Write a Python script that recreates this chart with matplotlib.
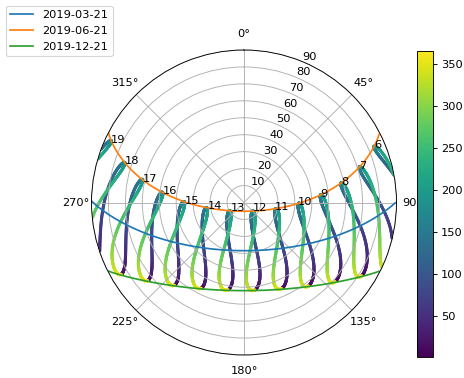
import numpy as np
import pandas as pd
import matplotlib
matplotlib.use("Agg")
import matplotlib.pyplot as plt

# ---- data / parameters (site, timezone, dates) ----
site_lat = 28.6          # New Delhi latitude
site_lon = 77.2          # New Delhi longitude
tz_offset_hours = 5.5    # Asia/Calcutta
year_start = "2019-01-01 00:00:00"
year_end = "2020-01-01"
day_dates = ["2019-03-21", "2019-06-21", "2019-12-21"]
day_labels = ["2019-03-21", "2019-06-21", "2019-12-21"]
cbar_ticks = [50, 100, 150, 200, 250, 300, 350]
r_ticks = [10, 20, 30, 40, 50, 60, 70, 80, 90]


def solar_position(local_times, lat, lon, tz_h):
    """NOAA solar position -> (apparent zenith, azimuth, apparent elevation)."""
    utc = local_times - pd.Timedelta(hours=tz_h)
    unix_days = (utc.values.astype("datetime64[s]").astype(np.int64)) / 86400.0
    jd = unix_days + 2440587.5
    t = (jd - 2451545.0) / 36525.0
    L0 = np.mod(280.46646 + t * (36000.76983 + t * 0.0003032), 360)
    M = 357.52911 + t * (35999.05029 - 0.0001537 * t)
    e = 0.016708634 - t * (0.000042037 + 0.0000001267 * t)
    Mr = np.radians(M)
    C = (np.sin(Mr) * (1.914602 - t * (0.004817 + 0.000014 * t))
         + np.sin(2 * Mr) * (0.019993 - 0.000101 * t)
         + np.sin(3 * Mr) * 0.000289)
    true_long = L0 + C
    omega = 125.04 - 1934.136 * t
    lam = true_long - 0.00569 - 0.00478 * np.sin(np.radians(omega))
    eps0 = 23 + (26 + (21.448 - t * (46.815 + t * (0.00059 - t * 0.001813))) / 60) / 60
    eps = eps0 + 0.00256 * np.cos(np.radians(omega))
    dec = np.arcsin(np.sin(np.radians(eps)) * np.sin(np.radians(lam)))
    y = np.tan(np.radians(eps / 2)) ** 2
    L0r = np.radians(L0)
    eot = 4 * np.degrees(y * np.sin(2 * L0r) - 2 * e * np.sin(Mr)
                         + 4 * e * y * np.sin(Mr) * np.cos(2 * L0r)
                         - 0.5 * y * y * np.sin(4 * L0r)
                         - 1.25 * e * e * np.sin(2 * Mr))
    utc_min = (unix_days - np.floor(unix_days)) * 1440.0
    tst = utc_min + eot + 4 * lon
    ha = np.radians(tst / 4.0 - 180.0)
    latr = np.radians(lat)
    cosz = np.sin(latr) * np.sin(dec) + np.cos(latr) * np.cos(dec) * np.cos(ha)
    zen = np.degrees(np.arccos(np.clip(cosz, -1, 1)))
    elev = 90 - zen
    refr = np.where(elev > -1,
                    1.02 / (60 * np.tan(np.radians(elev + 10.3 / (elev + 5.11)))),
                    0.0)
    app_elev = elev + refr
    az = np.degrees(np.arctan2(np.sin(ha),
                               np.cos(ha) * np.sin(latr) - np.tan(dec) * np.cos(latr))) + 180
    return 90 - app_elev, np.mod(az, 360), app_elev


times = pd.date_range(year_start, year_end, inclusive="left", freq="h")
zen, az, app_el = solar_position(times, site_lat, site_lon, tz_offset_hours)
mask = app_el > 0
zen, az = zen[mask], az[mask]
hours = times.hour.values[mask]
doy = times.dayofyear.values[mask]

dpi = 82
fig = plt.figure(figsize=(464 / dpi, 378 / dpi), dpi=dpi)
ax = fig.add_axes([91 / 464, 23 / 378, 306 / 464, 305 / 378], projection="polar")

points = ax.scatter(np.radians(az), zen, s=3, c=doy, cmap="viridis")

for hour in np.unique(hours):
    sel = hours == hour
    i = np.argmin(zen[sel])
    ax.text(np.radians(az[sel][i]), zen[sel][i], str(hour))

for date, label in zip(day_dates, day_labels):
    d = pd.Timestamp(date)
    dt = pd.date_range(d, d + pd.Timedelta("24h"), freq="5min")
    z, a, el = solar_position(dt, site_lat, site_lon, tz_offset_hours)
    m = el > 0
    ax.plot(np.radians(a[m]), z[m], label=label)

ax.set_theta_zero_location("N")
ax.set_theta_direction(-1)
ax.set_rmax(90)
ax.set_rticks(r_ticks)

cax = fig.add_axes([417 / 464, 21 / 378, 16 / 464, 306 / 378])
cb = fig.colorbar(points, cax=cax)
cb.set_ticks(cbar_ticks)

fig.legend(loc="upper left")

fig.savefig("out.png", dpi=dpi)
